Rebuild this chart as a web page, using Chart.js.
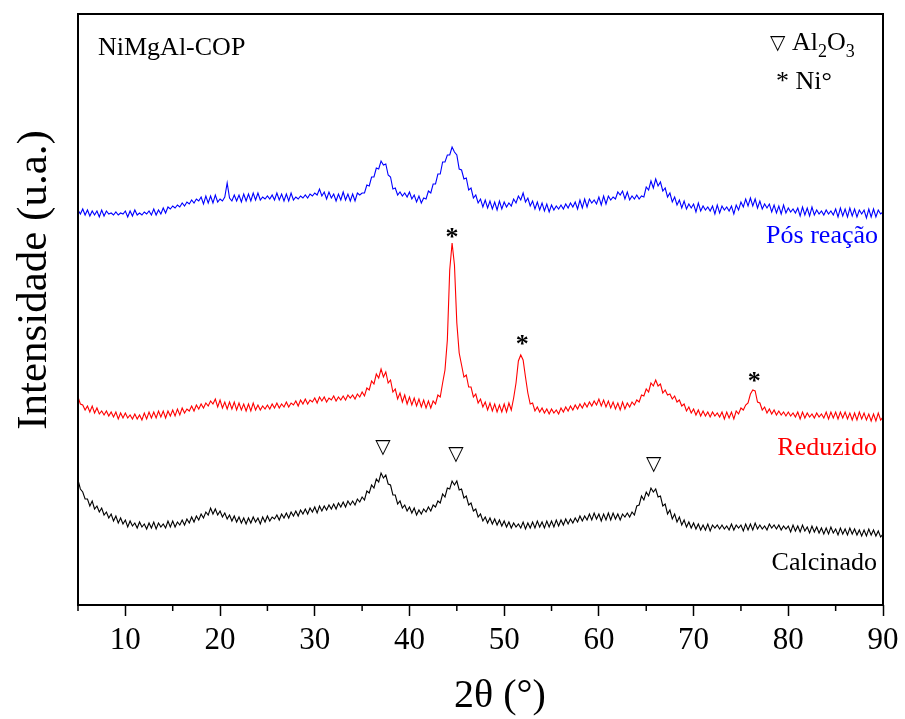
<!DOCTYPE html>
<html>
<head>
<meta charset="utf-8">
<script src="https://cdn.jsdelivr.net/npm/chart.js@4.4.1/dist/chart.umd.min.js"></script>
<style>
  html, body { margin: 0; padding: 0; background: #fff; }
  #wrap { width: 905px; height: 719px; }
</style>
</head>
<body>
<div id="wrap"><canvas id="xrdChart" width="905" height="719"></canvas></div>
<script>
// 2θ (°) grid, 0.25° step
const angulos = [
  5,5.25,5.5,5.75, 6,6.25,6.5,6.75, 7,7.25,7.5,7.75, 8,8.25,8.5,8.75, 9,9.25,9.5,9.75,
  10,10.25,10.5,10.75, 11,11.25,11.5,11.75, 12,12.25,12.5,12.75, 13,13.25,13.5,13.75, 14,14.25,14.5,14.75,
  15,15.25,15.5,15.75, 16,16.25,16.5,16.75, 17,17.25,17.5,17.75, 18,18.25,18.5,18.75, 19,19.25,19.5,19.75,
  20,20.25,20.5,20.75, 21,21.25,21.5,21.75, 22,22.25,22.5,22.75, 23,23.25,23.5,23.75, 24,24.25,24.5,24.75,
  25,25.25,25.5,25.75, 26,26.25,26.5,26.75, 27,27.25,27.5,27.75, 28,28.25,28.5,28.75, 29,29.25,29.5,29.75,
  30,30.25,30.5,30.75, 31,31.25,31.5,31.75, 32,32.25,32.5,32.75, 33,33.25,33.5,33.75, 34,34.25,34.5,34.75,
  35,35.25,35.5,35.75, 36,36.25,36.5,36.75, 37,37.25,37.5,37.75, 38,38.25,38.5,38.75, 39,39.25,39.5,39.75,
  40,40.25,40.5,40.75, 41,41.25,41.5,41.75, 42,42.25,42.5,42.75, 43,43.25,43.5,43.75, 44,44.25,44.5,44.75,
  45,45.25,45.5,45.75, 46,46.25,46.5,46.75, 47,47.25,47.5,47.75, 48,48.25,48.5,48.75, 49,49.25,49.5,49.75,
  50,50.25,50.5,50.75, 51,51.25,51.5,51.75, 52,52.25,52.5,52.75, 53,53.25,53.5,53.75, 54,54.25,54.5,54.75,
  55,55.25,55.5,55.75, 56,56.25,56.5,56.75, 57,57.25,57.5,57.75, 58,58.25,58.5,58.75, 59,59.25,59.5,59.75,
  60,60.25,60.5,60.75, 61,61.25,61.5,61.75, 62,62.25,62.5,62.75, 63,63.25,63.5,63.75, 64,64.25,64.5,64.75,
  65,65.25,65.5,65.75, 66,66.25,66.5,66.75, 67,67.25,67.5,67.75, 68,68.25,68.5,68.75, 69,69.25,69.5,69.75,
  70,70.25,70.5,70.75, 71,71.25,71.5,71.75, 72,72.25,72.5,72.75, 73,73.25,73.5,73.75, 74,74.25,74.5,74.75,
  75,75.25,75.5,75.75, 76,76.25,76.5,76.75, 77,77.25,77.5,77.75, 78,78.25,78.5,78.75, 79,79.25,79.5,79.75,
  80,80.25,80.5,80.75, 81,81.25,81.5,81.75, 82,82.25,82.5,82.75, 83,83.25,83.5,83.75, 84,84.25,84.5,84.75,
  85,85.25,85.5,85.75, 86,86.25,86.5,86.75, 87,87.25,87.5,87.75, 88,88.25,88.5,88.75, 89,89.25,89.5,89.75,
  90
];

// intensidades (u.a., offset as in the figure)
const calcinado = [
  125,116,113,106, 106,99,104,96, 99,93,97,90, 93,87,91,84, 89,82,87,81,
  85,78,84,79, 82,77,83,78, 81,76,82,77, 83,76,82,78, 81,77,84,78,
  84,78,83,80, 85,80,86,82, 88,83,89,85, 91,87,93,90, 97,91,96,90,
  94,88,92,86, 90,84,89,83, 88,82,87,81, 87,82,88,83, 87,81,88,83,
  89,84,88,86, 90,85,91,87, 92,87,93,89, 94,89,95,91, 96,91,97,93,
  98,92,99,94, 99,95,100,96, 101,96,102,98, 103,98,104,100, 104,100,106,103,
  108,105,114,112, 120,117,126,123, 132,127,130,121, 120,110,110,101, 104,97,100,94,
  98,92,97,90, 95,91,96,93, 98,94,100,98, 104,102,111,108, 117,116,124,120,
  124,115,116,107, 109,100,102,94, 96,88,91,84, 88,82,87,81, 86,80,85,79,
  84,78,83,77, 82,78,81,77, 83,76,82,77, 83,77,84,78, 83,77,84,78,
  84,78,85,79, 85,80,86,81, 86,82,87,83, 89,84,89,85, 91,85,92,86,
  91,84,91,85, 92,85,92,86, 91,85,91,88, 92,88,93,90, 99,100,109,105,
  113,109,117,113, 116,108,109,99, 101,91,95,86, 91,83,88,80, 85,78,83,77,
  82,76,81,75, 80,75,81,74, 80,77,80,76, 80,76,79,75, 81,75,80,77,
  80,74,81,75, 81,75,82,76, 80,76,79,75, 81,77,80,76, 80,75,79,76,
  79,73,80,74, 79,73,80,74, 78,72,79,73, 78,72,77,71, 77,71,78,72,
  76,70,77,71, 76,70,77,71, 76,70,75,69, 75,69,76,70, 75,69,74,68,
  71
];

const reduzido = [
  208,201,200,195, 199,193,199,192, 197,191,194,190, 194,189,193,188, 193,186,192,187,
  192,187,190,186, 191,186,190,185, 192,186,193,187, 193,187,194,188, 194,187,194,189,
  195,189,196,190, 197,192,196,194, 199,194,200,196, 201,197,202,199, 204,201,206,198,
  205,197,203,196, 203,196,203,195, 202,195,201,194, 201,194,202,195, 200,195,199,196,
  200,196,201,197, 202,197,201,198, 203,198,202,200, 204,199,205,201, 206,201,205,203,
  207,202,208,204, 208,203,207,205, 209,204,208,205, 209,205,210,207, 210,206,211,208,
  213,209,217,215, 224,221,231,227, 236,228,233,222, 225,213,216,206, 212,203,210,201,
  208,200,207,199, 206,198,205,197, 204,197,204,201, 210,208,222,235, 265,335,362,340,
  282,252,240,228, 230,218,218,208, 211,202,206,198, 203,195,202,194, 201,193,200,193,
  201,193,202,195, 207,222,244,250, 245,228,212,201, 202,194,198,193, 197,192,196,191,
  196,192,195,191, 197,193,198,194, 199,195,200,196, 201,197,202,198, 203,199,204,200,
  206,199,205,198, 204,197,203,196, 202,195,203,196, 202,198,203,200, 205,203,210,209,
  216,213,222,219, 225,219,221,212, 215,210,211,206, 209,203,205,199, 201,194,198,192,
  196,190,195,189, 194,189,193,188, 193,189,192,188, 193,186,193,187, 193,186,194,191,
  197,195,200,202, 211,215,214,203, 202,195,198,192, 196,191,195,190, 194,190,193,189,
  193,189,192,188, 193,186,193,187, 192,188,191,187, 192,188,191,187, 193,186,193,187,
  193,186,193,187, 193,186,192,185, 192,185,193,186, 192,185,191,184, 191,184,192,185,
  188
];

const posReacao = [
  395,391,396,390, 395,389,394,390, 394,388,395,389, 394,391,392,390, 393,390,392,391,
  394,388,394,389, 395,390,392,390, 393,391,394,390, 396,390,395,391, 397,392,398,396,
  399,397,400,398, 402,399,403,401, 405,402,406,404, 408,401,409,402, 409,402,410,403,
  406,404,408,422, 407,404,410,404, 410,403,411,404, 411,404,412,405, 412,405,408,406,
  409,406,410,405, 412,405,411,404, 411,404,412,405, 408,406,409,407, 410,407,411,409,
  412,410,416,409, 413,406,413,407, 411,404,411,405, 413,405,411,404, 411,404,412,410,
  412,412,420,419, 428,428,437,436, 444,440,441,430, 428,416,417,410, 413,409,412,408,
  413,406,410,403, 409,402,407,406, 414,412,421,421, 431,431,443,443, 450,450,458,453,
  450,436,435,426, 427,415,417,407, 410,402,406,398, 405,397,404,396, 403,395,404,396,
  403,398,402,399, 406,402,409,405, 412,403,407,399, 404,396,403,395, 402,394,401,393,
  400,395,399,396, 400,396,401,397, 402,398,403,396, 405,397,406,398, 406,402,405,401,
  408,400,409,401, 409,405,408,406, 413,410,414,406, 413,405,409,406, 410,406,409,408,
  418,415,424,417, 426,419,423,414, 417,408,412,403, 408,400,405,397, 404,396,401,397,
  401,393,402,394, 399,395,398,394, 399,391,400,392, 399,395,398,394, 399,391,400,395,
  403,398,406,399, 407,399,406,397, 404,396,401,397, 401,393,400,392, 399,391,400,392,
  397,393,396,392, 397,389,398,390, 397,389,398,390, 395,391,394,390, 395,391,394,390,
  396,388,397,389, 396,388,397,389, 396,388,395,391, 395,387,396,388, 396,388,395,391,
  393
];

const rotulosX = [10, 20, 30, 40, 50, 60, 70, 80, 90];
const ticksMenores = [5, 15, 25, 35, 45, 55, 65, 75, 85];

// markers: Al2O3 triangles on Calcinado, Ni° asterisks on Reduzido
const picosAl2O3 = [37.2, 44.9, 65.8];
const nivelAl2O3 = [157, 150, 140];
const picosNi = [44.5, 51.9, 76.4];
const nivelNi = [368, 261, 224];

const SERIF = '"Liberation Serif", "Times New Roman", serif';

function serie(valores) {
  return angulos.map((a, i) => ({ x: a, y: valores[i] }));
}

function ticksMenoresDraw(ctx, sx, ca) {
  ctx.strokeStyle = "#000";
  ctx.lineWidth = 1.5;
  ticksMenores.forEach(v => {
    const px = sx.getPixelForValue(v);
    ctx.beginPath();
    ctx.moveTo(px, ca.bottom);
    ctx.lineTo(px, ca.bottom + 6);
    ctx.stroke();
  });
}

const extrasPlugin = {
  id: "extras",
  afterDraw(chart) {
    const { ctx, chartArea: ca, scales } = chart;
    const sx = scales.x, sy = scales.y;
    ctx.save();

    // frame
    ctx.strokeStyle = "#000";
    ctx.lineWidth = 2;
    ctx.strokeRect(ca.left, ca.top, ca.right - ca.left, ca.bottom - ca.top);

    ticksMenoresDraw(ctx, sx, ca);

    // axis titles
    ctx.fillStyle = "#000";
    ctx.font = "40px " + SERIF;
    ctx.textAlign = "center";
    ctx.textBaseline = "alphabetic";
    ctx.fillText("2θ (°)", 500, 707);

    ctx.save();
    ctx.translate(46, 280);
    ctx.rotate(-Math.PI / 2);
    ctx.font = "43px " + SERIF;
    ctx.fillText("Intensidade (u.a.)", 0, 0);
    ctx.restore();

    // sample name
    ctx.textAlign = "left";
    ctx.font = "26px " + SERIF;
    ctx.fillText("NiMgAl-COP", 98, 55);

    // legend of phases
    let x = 770;
    ctx.font = "20px \"DejaVu Sans\"";
    ctx.fillText("▽", x, 49);
    x += 22;
    ctx.font = "26px " + SERIF;
    ctx.fillText("Al", x, 50);
    x += ctx.measureText("Al").width;
    ctx.font = "18px " + SERIF;
    ctx.fillText("2", x, 57);
    x += ctx.measureText("2").width;
    ctx.font = "26px " + SERIF;
    ctx.fillText("O", x, 50);
    x += ctx.measureText("O").width;
    ctx.font = "18px " + SERIF;
    ctx.fillText("3", x, 57);
    ctx.font = "26px " + SERIF;
    ctx.fillText("* Ni°", 776, 89);

    // series labels
    ctx.textAlign = "right";
    ctx.fillStyle = "#0000ff";
    ctx.fillText("Pós reação", 878, 243);
    ctx.fillStyle = "#ff0000";
    ctx.fillText("Reduzido", 877, 455);
    ctx.fillStyle = "#000";
    ctx.fillText("Calcinado", 877, 570);

    // peak markers
    ctx.textAlign = "center";
    ctx.textBaseline = "middle";
    ctx.font = "20px \"DejaVu Sans\"";
    picosAl2O3.forEach((a, i) => {
      ctx.fillText("▽", sx.getPixelForValue(a), sy.getPixelForValue(nivelAl2O3[i]));
    });
    ctx.font = "bold 26px " + SERIF;
    picosNi.forEach((a, i) => {
      ctx.fillText("*", sx.getPixelForValue(a), sy.getPixelForValue(nivelNi[i]) + 1);
    });

    ctx.restore();
  }
};

new Chart(document.getElementById("xrdChart"), {
  type: "line",
  data: {
    datasets: [
      { label: "Calcinado", data: serie(calcinado), borderColor: "#000000" },
      { label: "Reduzido", data: serie(reduzido), borderColor: "#ff0000" },
      { label: "Pós reação", data: serie(posReacao), borderColor: "#0000ff" }
    ]
  },
  options: {
    responsive: false,
    animation: false,
    devicePixelRatio: 1,
    layout: { padding: { left: 78, right: 22, top: 14, bottom: 0 } },
    elements: {
      line: { borderWidth: 1.1, tension: 0 },
      point: { radius: 0 }
    },
    plugins: {
      legend: { display: false },
      tooltip: { enabled: false }
    },
    scales: {
      x: {
        type: "linear",
        min: 5,
        max: 90,
        afterFit: s => { s.height = 114; },
        afterBuildTicks: s => { s.ticks = rotulosX.map(v => ({ value: v })); },
        border: { display: false },
        grid: {
          drawOnChartArea: false,
          drawTicks: true,
          tickLength: 11,
          tickColor: "#000",
          tickWidth: 1.5
        },
        ticks: {
          color: "#000",
          padding: 6,
          maxRotation: 0,
          font: { family: SERIF, size: 31 }
        }
      },
      y: {
        display: false,
        min: 0,
        max: 591
      }
    }
  },
  plugins: [extrasPlugin]
});
</script>
</body>
</html>
